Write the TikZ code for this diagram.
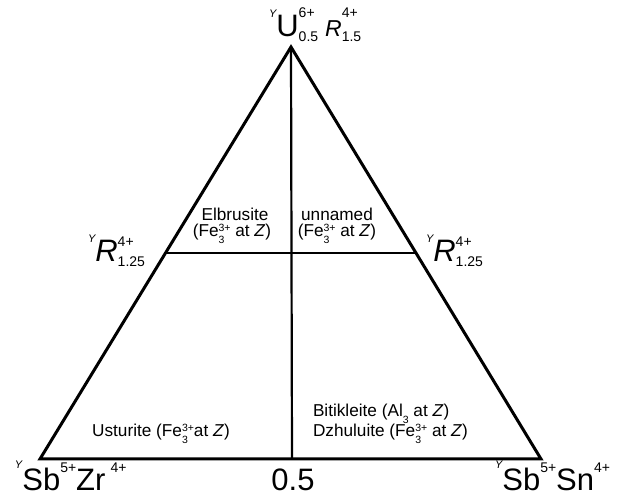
\documentclass[tikz,border=0pt]{standalone}
\usepackage{fontspec}
\setmainfont{Liberation Sans}
\usetikzlibrary{calc}
\newcommand\ssbox[2]{\setbox0=\hbox{#1}\setbox2=\hbox{#2}\ifdim\wd0>\wd2 \rlap{\box2\relax}\box0\relax\else\rlap{\box0\relax}\box2\relax\fi}
\newcommand\fbig{\fontsize{31}{31}\selectfont}
\newcommand\fss{\fontsize{14}{14}\selectfont}
\newcommand\fmed{\fontsize{17.2}{18}\selectfont}
\newcommand\BS[3][15pt]{\ssbox{\raisebox{#1}{\fss #2}}{\raisebox{-5pt}{\fss #3}}}
\newcommand\BT[1]{\raisebox{18pt}{\fss #1}}
\newcommand\BY[1][19pt]{\raisebox{#1}{\fontsize{11}{11}\selectfont\itshape Y}}
\newcommand\SSb[2]{\ssbox{\raisebox{5.5pt}{\fontsize{10.5}{10.5}\selectfont #1}}{\raisebox{-7pt}{\fontsize{10.5}{10.5}\selectfont #2}}}
\begin{document}
\begin{tikzpicture}[x=1pt,y=-1pt,
  tri/.style={line width=3pt,line join=miter},
  inner/.style={line width=2.2pt},
  lab/.style={inner sep=0pt,outer sep=0pt}]
\useasboundingbox (0,0) rectangle (622,494);
\coordinate (A) at (291,47);
\coordinate (L) at (40,459);
\coordinate (Rr) at (541,459);
\coordinate (M) at (292,459);
\coordinate (PL) at ($(A)!0.5!(L)$);
\coordinate (PR) at ($(A)!0.5!(Rr)$);
\draw[inner] (A) -- (M);
\draw[inner] (PL) -- (PR);
\draw[tri] (A) -- (L) -- (Rr) -- cycle;
% vertex labels
\node[lab,anchor=base west] (top) at (269,37) {\fbig\BY[19pt]U\BS[19pt]{6+}{0.5}\hspace{7pt}{\fontsize{23}{23}\selectfont\itshape R}\BS[19pt]{4+}{1.5}};
\node[lab,anchor=base west] (left) at (88,262) {\fbig\BY[19pt]\textit{R}\BS{4+}{1.25}};
\node[lab,anchor=base west] (right) at (426,262) {\fbig\BY[19pt]\textit{R}\BS{4+}{1.25}};
\node[lab,anchor=base west] (bl) at (15,491) {\fbig\BY[22pt]Sb\BT{5+}Zr\,\BT{4+}};
\node[lab,anchor=base] (half) at (293,491) {\fbig 0.5};
\node[lab,anchor=base west] (br) at (495,491) {\fbig\BY[22pt]Sb\BT{5+}Sn\BT{4+}};
% field labels
\node[lab,anchor=base] (elb) at (235,221) {\fmed Elbrusite};
\node[lab,anchor=base] (elbz) at (232,237) {\fmed (Fe\SSb{3+}{3} at \textit{Z})};
\node[lab,anchor=base] (unn) at (337,221) {\fmed unnamed};
\node[lab,anchor=base] (unnz) at (337,237) {\fmed (Fe\SSb{3+}{3} at \textit{Z})};
\node[lab,anchor=base] (ust) at (161,437) {\fmed Usturite (Fe\SSb{3+}{3}at \textit{Z})};
\node[lab,anchor=base west] (bit) at (313,417) {\fmed Bitikleite (Al\SSb{}{3} at \textit{Z})};
\node[lab,anchor=base west] (dzh) at (313,437) {\fmed Dzhuluite (Fe\SSb{3+}{3} at \textit{Z})};
\end{tikzpicture}
\end{document}
